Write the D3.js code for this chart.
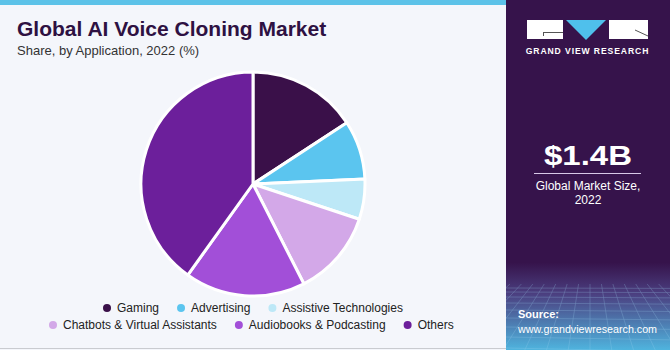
<!DOCTYPE html>
<html>
<head>
<meta charset="utf-8">
<script src="https://cdn.jsdelivr.net/npm/d3@7/dist/d3.min.js"></script>
<style>
  html, body { margin: 0; padding: 0; background: #f4f6fb; }
  svg { display: block; }
  text { font-family: "Liberation Sans", Arial, sans-serif; }
</style>
</head>
<body>
<svg id="chart" width="670" height="350"></svg>
<script>
// Application segments and their share of the 2022 market (%)
const categories = ["Gaming", "Advertising", "Assistive Technologies",
  "Chatbots & Virtual Assistants", "Audiobooks & Podcasting", "Others"];
const shares = [15.8, 8.5, 5.8, 12.4, 17.4, 40.1];
const colors = ["#3a1049", "#5bc5ef", "#bde8f7", "#d3a8e8", "#a24fd8", "#6c1f9b"];
const legendRows = [[0, 1, 2], [3, 4, 5]];

const svg = d3.select("#chart");
const W = 670, H = 350, sideX = 506;

// background panels
svg.append("rect").attr("width", W).attr("height", H).attr("fill", "#f4f6fb");
svg.append("rect").attr("x", 0).attr("y", 0).attr("width", sideX).attr("height", 5).attr("fill", "#5cc2e8");
svg.append("line").attr("x1", 0).attr("x2", sideX).attr("y1", 348.5).attr("y2", 348.5)
  .attr("stroke", "#c9cbd0").attr("stroke-width", 1);

// title
svg.append("text").attr("x", 17).attr("y", 36)
  .attr("font-size", 21).attr("font-weight", 700).attr("fill", "#2e1142")
  .text("Global AI Voice Cloning Market");
svg.append("text").attr("x", 17).attr("y", 55)
  .attr("font-size", 13).attr("fill", "#333")
  .text("Share, by Application, 2022 (%)");

// pie
const cx = 253, cy = 184, r = 112;
const pie = d3.pie().sort(null).value(d => d)(shares);
const arc = d3.arc().innerRadius(0).outerRadius(r);
svg.append("g").attr("transform", `translate(${cx},${cy})`)
  .selectAll("path").data(pie).join("path")
  .attr("d", arc)
  .attr("fill", (d, i) => colors[i])
  .attr("stroke", "#ffffff").attr("stroke-width", 3).attr("stroke-linejoin", "round");

// legend
const legendY = [312, 329];
const legendStartX = [107, 53];
const gap = 22;
legendRows.forEach((row, ri) => {
  let x = legendStartX[ri];
  row.forEach(i => {
    const g = svg.append("g");
    g.append("circle").attr("cx", x).attr("cy", legendY[ri] - 4).attr("r", 4).attr("fill", colors[i]);
    const t = g.append("text").attr("x", x + 10).attr("y", legendY[ri])
      .attr("font-size", 12).attr("fill", "#222").text(categories[i]);
    x += 10 + t.node().getComputedTextLength() + gap;
  });
});

// side panel
const side = svg.append("g");
const defs = svg.append("defs");
const grad = defs.append("linearGradient").attr("id", "sideGrad")
  .attr("x1", 0).attr("y1", 0).attr("x2", 0).attr("y2", 1);
grad.append("stop").attr("offset", "0%").attr("stop-color", "#36134b");
grad.append("stop").attr("offset", "75%").attr("stop-color", "#36134b");
grad.append("stop").attr("offset", "84%").attr("stop-color", "#4b3f80");
grad.append("stop").attr("offset", "100%").attr("stop-color", "#4fb4de");
side.append("rect").attr("x", sideX).attr("y", 0).attr("width", W - sideX).attr("height", H)
  .attr("fill", "url(#sideGrad)");
defs.append("clipPath").attr("id", "gridClip")
  .append("rect").attr("x", sideX).attr("y", 284).attr("width", W - sideX).attr("height", H - 284);

// perspective grid in the lower panel
const grid = side.append("g").attr("clip-path", "url(#gridClip)")
  .attr("stroke", "#9fd4f2").attr("stroke-width", 0.6).attr("fill", "none").attr("opacity", 0.4);
const vx = 590, vy = 230;
d3.range(-30, 31).forEach(k => {
  grid.append("line").attr("x1", vx + k * 3).attr("y1", vy).attr("x2", vx + k * 28).attr("y2", H + 40);
});
[288, 292, 297, 303, 310, 318, 327, 337, 348].forEach(y => {
  grid.append("line").attr("x1", sideX).attr("x2", W).attr("y1", y).attr("y2", y + (y - 280) * 0.05);
});

// logo
const logo = side.append("g");
logo.append("rect").attr("x", 527).attr("y", 20).attr("width", 36).attr("height", 19).attr("fill", "#fff");
logo.append("path").attr("d", "M543,32.5 L563,32.5 M543.5,32 L543.5,36").attr("stroke", "#555").attr("stroke-width", 1);
logo.append("path").attr("d", "M566,20 L606,20 L586,40 Z").attr("fill", "#4fc0ec");
logo.append("rect").attr("x", 609).attr("y", 20).attr("width", 39).attr("height", 19).attr("fill", "#fff");
logo.append("path").attr("d", "M635,30 L648,36").attr("stroke", "#555").attr("stroke-width", 1);
side.append("text").attr("x", 587.5).attr("y", 54).attr("text-anchor", "middle")
  .attr("font-size", 8.6).attr("font-weight", 700).attr("letter-spacing", 0.9).attr("fill", "#fff")
  .text("GRAND VIEW RESEARCH");

// market size
side.append("text").attr("x", 588).attr("y", 165).attr("text-anchor", "middle")
  .attr("font-size", 28).attr("font-weight", 700).attr("fill", "#fff")
  .attr("textLength", 88).attr("lengthAdjust", "spacingAndGlyphs").text("$1.4B");
side.append("line").attr("x1", 534).attr("x2", 641).attr("y1", 173.5).attr("y2", 173.5)
  .attr("stroke", "#d8c8e8").attr("stroke-width", 1);
side.append("text").attr("x", 588).attr("y", 190).attr("text-anchor", "middle")
  .attr("font-size", 12).attr("fill", "#fff").text("Global Market Size,");
side.append("text").attr("x", 588).attr("y", 204).attr("text-anchor", "middle")
  .attr("font-size", 12).attr("fill", "#fff").text("2022");

// source
side.append("text").attr("x", 518).attr("y", 318)
  .attr("font-size", 11).attr("font-weight", 700).attr("fill", "#fff").text("Source:");
side.append("text").attr("x", 518).attr("y", 333)
  .attr("font-size", 10.7).attr("fill", "#fff").text("www.grandviewresearch.com");
</script>
</body>
</html>
